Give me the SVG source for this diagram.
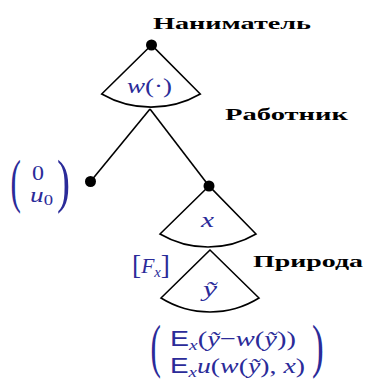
<svg xmlns="http://www.w3.org/2000/svg" width="366" height="379" viewBox="0 0 366 379">
<style>
.fan{fill:none;stroke:#000;stroke-width:1.6;stroke-linejoin:miter}
.edge{fill:none;stroke:#000;stroke-width:1.6}
.dot{fill:#000}
.lbl{font-family:"Liberation Serif",serif;font-weight:bold;font-size:17px;fill:#000}
.m{font-family:"Liberation Serif",serif;font-size:22px;fill:#2b2b99}
.i{font-style:italic}
.sf{font-family:"Liberation Sans",sans-serif;font-style:normal}
.sub{font-size:15px}
.par{font-family:"Liberation Serif",serif;fill:#2b2b99}
</style>
<rect width="366" height="379" fill="#fff"/>
<g id="connectors">
<path class="edge" d="M150,109 L90.5,181.5"/>
<path class="edge" d="M150,109 L209,186"/>
</g>
<g id="employer">
<path class="fan" d="M151.5,45 L101.7,94 A99,99 0 0 0 200.3,94 Z"/>
<circle class="dot" cx="151.5" cy="45" r="5.5"/>
<text class="lbl" x="153" y="28.5" textLength="158" lengthAdjust="spacingAndGlyphs">Наниматель</text>
<text class="m" x="127" y="93" textLength="45" lengthAdjust="spacingAndGlyphs"><tspan class="i">w</tspan>(·)</text>
</g>
<g id="worker-label">
<text class="lbl" x="225" y="119.5" textLength="123" lengthAdjust="spacingAndGlyphs">Работник</text>
</g>
<g id="leaf-reject">
<circle class="dot" cx="90.5" cy="181.5" r="5.5"/>
<text class="par" font-size="60" x="10.5" y="200.6" textLength="10.4" lengthAdjust="spacingAndGlyphs">(</text>
<text class="par" font-size="60" x="57" y="200.6" textLength="13" lengthAdjust="spacingAndGlyphs">)</text>
<text class="m" x="32" y="180" textLength="12" lengthAdjust="spacingAndGlyphs">0</text>
<text class="m" x="30" y="202" textLength="23" lengthAdjust="spacingAndGlyphs"><tspan class="i">u</tspan><tspan class="sub" dy="3">0</tspan></text>
</g>
<g id="worker">
<path class="fan" d="M209,186 L160,234 A95,95 0 0 0 256,234 Z"/>
<circle class="dot" cx="209" cy="186" r="5.5"/>
<text class="m i" x="201" y="227" textLength="13" lengthAdjust="spacingAndGlyphs">x</text>
</g>
<g id="nature">
<path class="fan" d="M210,250 L161,298 A93,93 0 0 0 259,298 Z"/>
<text class="lbl" x="253" y="267" textLength="110" lengthAdjust="spacingAndGlyphs">Природа</text>
<text class="m" x="132" y="273" font-size="24" textLength="38" lengthAdjust="spacingAndGlyphs"><tspan font-size="28" dy="1">[</tspan><tspan class="i" dy="-1">F</tspan><tspan class="i sub" dy="4">x</tspan><tspan font-size="28" dy="-3">]</tspan></text>
<text class="m i" x="203" y="296" textLength="14" lengthAdjust="spacingAndGlyphs">ỹ</text>
</g>
<g id="payoff">
<text class="par" font-size="60" x="150.5" y="366" textLength="10.4" lengthAdjust="spacingAndGlyphs">(</text>
<text class="par" font-size="60" x="312" y="366" textLength="11.7" lengthAdjust="spacingAndGlyphs">)</text>
<text class="m" x="170" y="346" textLength="126" lengthAdjust="spacingAndGlyphs"><tspan class="sf">E</tspan><tspan class="i sub" dy="4">x</tspan><tspan dy="-4">(</tspan><tspan class="i">ỹ</tspan>−<tspan class="i">w</tspan>(<tspan class="i">ỹ</tspan>))</text>
<text class="m" x="170" y="373" textLength="135" lengthAdjust="spacingAndGlyphs"><tspan class="sf">E</tspan><tspan class="i sub" dy="4">x</tspan><tspan class="i" dy="-4">u</tspan>(<tspan class="i">w</tspan>(<tspan class="i">ỹ</tspan>), <tspan class="i">x</tspan>)</text>
</g>
</svg>
